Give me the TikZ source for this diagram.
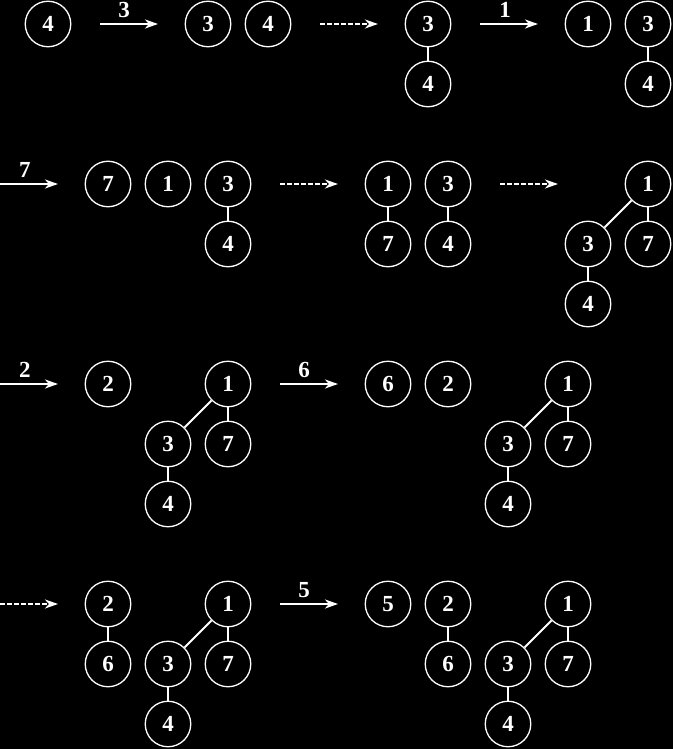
\documentclass[tikz,border=0pt]{standalone}
\usepackage{fontspec}
\setmainfont{Liberation Serif}
\usetikzlibrary{arrows.meta}
\begin{document}
\begin{tikzpicture}[x=1pt,y=-1pt,
  v/.style={circle,draw=white,line width=1.3pt,minimum size=45.5pt,inner sep=0pt,text=white,font=\fontsize{23}{23}\selectfont\bfseries},
  edge/.style={draw=white,line width=1.8pt},
  arr/.style={draw=white,line width=2.6pt,-{Stealth[length=13pt,width=9pt,inset=4pt]}},
  darr/.style={arr,dash pattern=on 4.5pt off 2.5pt},
  lab/.style={text=white,inner sep=0pt,font=\fontsize{23}{23}\selectfont\bfseries}]
\fill[black] (0,0) rectangle (673,749);
\useasboundingbox (0,0) rectangle (673,749);
% Row 1
\node[v] (r1a) at (48,24) {4};
\coordinate (r1s1) at (100,24); \coordinate (r1e1) at (158,24);
\draw[arr] (r1s1) -- (r1e1);
\node[lab] (r1l1) at (124,10) {3};
\node[v] (r1b) at (208,24) {3};
\node[v] (r1c) at (268,24) {4};
\coordinate (r1s2) at (320,24); \coordinate (r1e2) at (378,24);
\draw[darr] (r1s2) -- (r1e2);
\node[v] (r1d) at (428,24) {3};
\node[v] (r1e) at (428,84) {4};
\draw[edge] (r1d) -- (r1e);
\coordinate (r1s3) at (480,24); \coordinate (r1e3) at (538,24);
\draw[arr] (r1s3) -- (r1e3);
\node[lab] (r1l3) at (505,10) {1};
\node[v] (r1f) at (588,24) {1};
\node[v] (r1g) at (648,24) {3};
\node[v] (r1h) at (648,84) {4};
\draw[edge] (r1g) -- (r1h);
% Row 2
\coordinate (r2s1) at (0,184); \coordinate (r2e1) at (58,184);
\draw[arr] (r2s1) -- (r2e1);
\node[lab] (r2l1) at (25,170) {7};
\node[v] (r2a) at (108,184) {7};
\node[v] (r2b) at (168,184) {1};
\node[v] (r2c) at (228,184) {3};
\node[v] (r2d) at (228,244) {4};
\draw[edge] (r2c) -- (r2d);
\coordinate (r2s2) at (280,184); \coordinate (r2e2) at (338,184);
\draw[darr] (r2s2) -- (r2e2);
\node[v] (r2e) at (388,184) {1};
\node[v] (r2f) at (388,244) {7};
\draw[edge] (r2e) -- (r2f);
\node[v] (r2g) at (448,184) {3};
\node[v] (r2h) at (448,244) {4};
\draw[edge] (r2g) -- (r2h);
\coordinate (r2s3) at (500,184); \coordinate (r2e3) at (558,184);
\draw[darr] (r2s3) -- (r2e3);
\node[v] (r2i) at (648,184) {1};
\node[v] (r2j) at (588,244) {3};
\node[v] (r2k) at (648,244) {7};
\node[v] (r2l) at (588,304) {4};
\draw[edge] (r2i) -- (r2j);
\draw[edge] (r2i) -- (r2k);
\draw[edge] (r2j) -- (r2l);
% Row 3
\coordinate (r3s1) at (0,384); \coordinate (r3e1) at (58,384);
\draw[arr] (r3s1) -- (r3e1);
\node[lab] (r3l1) at (25,370) {2};
\node[v] (r3a) at (108,384) {2};
\node[v] (r3b) at (228,384) {1};
\node[v] (r3c) at (168,444) {3};
\node[v] (r3d) at (228,444) {7};
\node[v] (r3e) at (168,504) {4};
\draw[edge] (r3b) -- (r3c);
\draw[edge] (r3b) -- (r3d);
\draw[edge] (r3c) -- (r3e);
\coordinate (r3s2) at (280,384); \coordinate (r3e2) at (338,384);
\draw[arr] (r3s2) -- (r3e2);
\node[lab] (r3l2) at (304,370) {6};
\node[v] (r3f) at (388,384) {6};
\node[v] (r3g) at (448,384) {2};
\node[v] (r3h) at (568,384) {1};
\node[v] (r3i) at (508,444) {3};
\node[v] (r3j) at (568,444) {7};
\node[v] (r3k) at (508,504) {4};
\draw[edge] (r3h) -- (r3i);
\draw[edge] (r3h) -- (r3j);
\draw[edge] (r3i) -- (r3k);
% Row 4
\coordinate (r4s1) at (0,604); \coordinate (r4e1) at (58,604);
\draw[darr] (r4s1) -- (r4e1);
\node[v] (r4a) at (108,604) {2};
\node[v] (r4b) at (108,664) {6};
\draw[edge] (r4a) -- (r4b);
\node[v] (r4c) at (228,604) {1};
\node[v] (r4d) at (168,664) {3};
\node[v] (r4e) at (228,664) {7};
\node[v] (r4f) at (168,724) {4};
\draw[edge] (r4c) -- (r4d);
\draw[edge] (r4c) -- (r4e);
\draw[edge] (r4d) -- (r4f);
\coordinate (r4s2) at (280,604); \coordinate (r4e2) at (338,604);
\draw[arr] (r4s2) -- (r4e2);
\node[lab] (r4l2) at (304,590) {5};
\node[v] (r4g) at (388,604) {5};
\node[v] (r4h) at (448,604) {2};
\node[v] (r4i) at (448,664) {6};
\draw[edge] (r4h) -- (r4i);
\node[v] (r4j) at (568,604) {1};
\node[v] (r4k) at (508,664) {3};
\node[v] (r4l) at (568,664) {7};
\node[v] (r4m) at (508,724) {4};
\draw[edge] (r4j) -- (r4k);
\draw[edge] (r4j) -- (r4l);
\draw[edge] (r4k) -- (r4m);
\end{tikzpicture}
\end{document}
